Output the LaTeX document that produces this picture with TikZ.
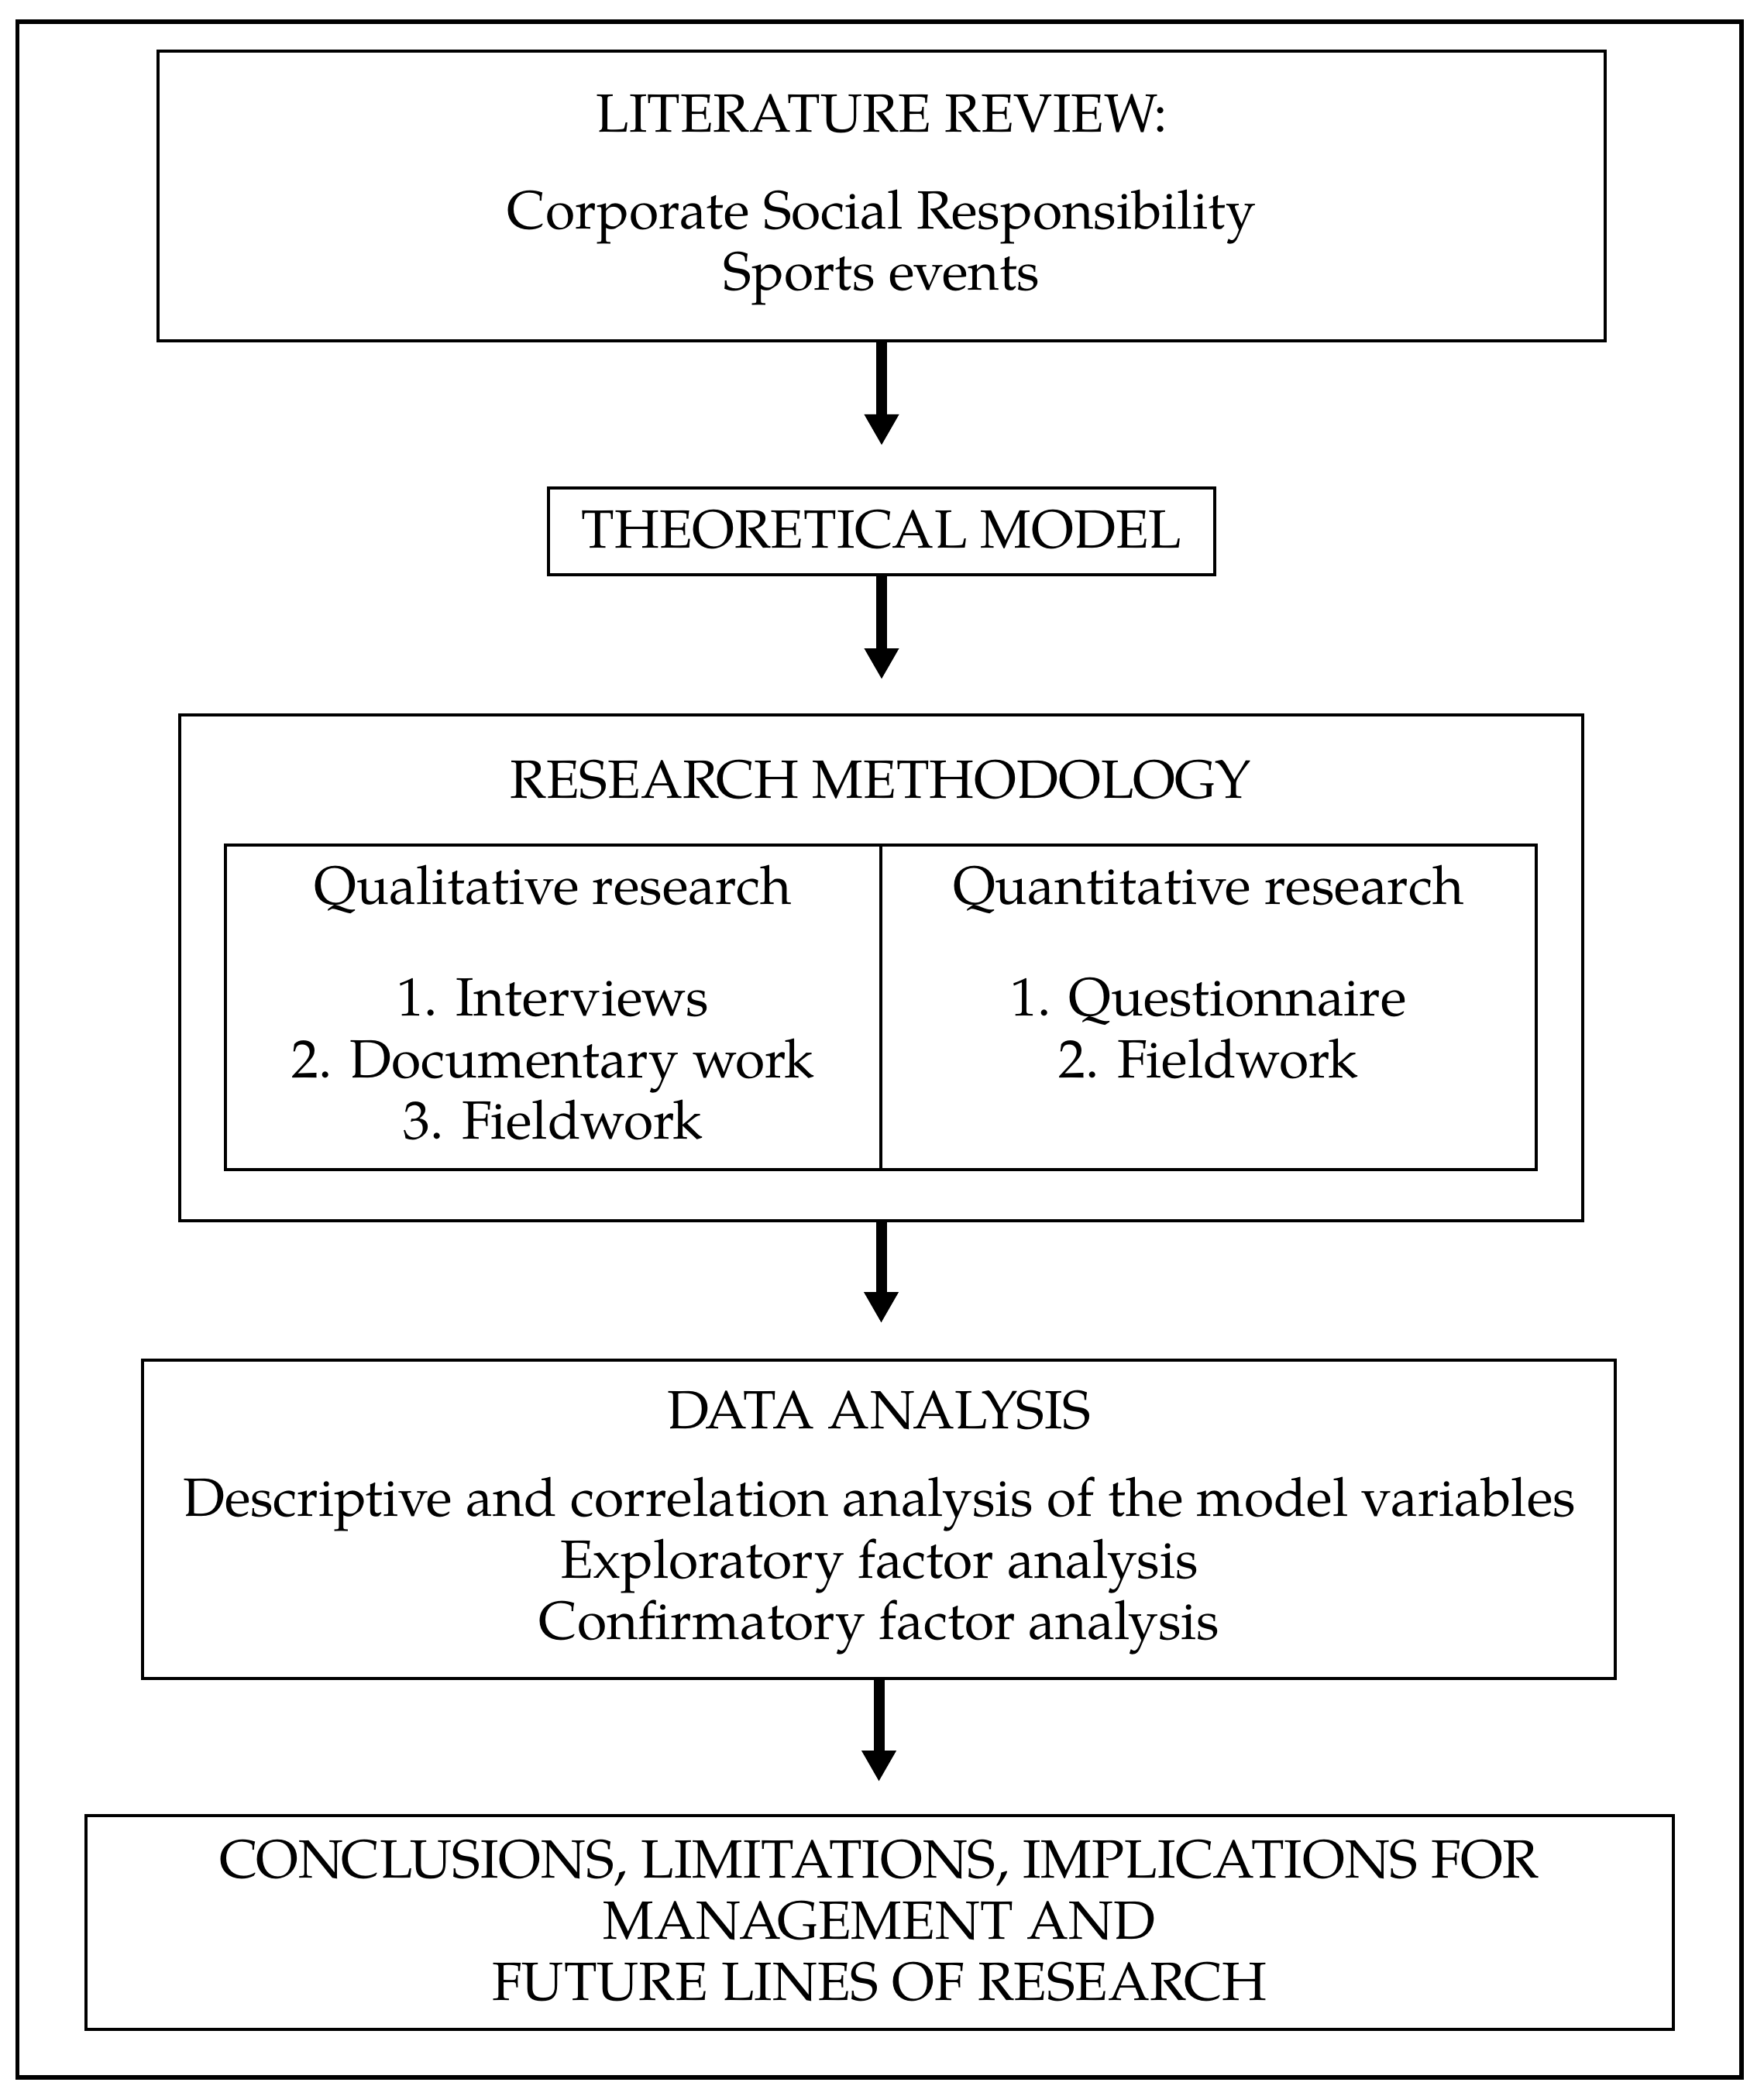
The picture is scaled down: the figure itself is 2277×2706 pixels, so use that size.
\documentclass[tikz,border=0pt]{standalone}
\usepackage{fontspec}
\setmainfont{TeX Gyre Pagella}
\usetikzlibrary{arrows.meta}
\begin{document}
\begin{tikzpicture}[x=0.25pt,y=-0.25pt,
  box/.style={draw=black,line width=1.15pt,rectangle,inner sep=0pt,outer sep=0pt},
  txt/.style={anchor=base,inner sep=0pt,font=\fontsize{17.4}{21}\selectfont},
  flow/.style={line width=3.5pt,-{Triangle[width=10.5pt,length=10pt]}}]
\useasboundingbox (0,0) rectangle (2277,2706);
% outer frame
\node[box,line width=1.3pt,minimum width=556.4pt,minimum height=663.5pt] (frame) at (1135.25,1355) {};
% boxes
\node[box,minimum width=467pt,minimum height=93.5pt] (lit) at (1138,253) {};
\node[box,minimum width=215pt,minimum height=28pt] (theo) at (1138,686) {};
\node[box,minimum width=452.75pt,minimum height=163.25pt] (meth) at (1137.5,1249.5) {};
\node[box,minimum width=423pt,minimum height=104.75pt] (table) at (1137,1300.5) {};
\draw[line width=1.15pt] (table.north) -- (table.south);
\node[box,minimum width=475.25pt,minimum height=102.75pt] (data) at (1134.5,1961.5) {};
\node[box,minimum width=512.25pt,minimum height=69pt] (concl) at (1135.5,2482) {};
% texts
\node[txt] (t1) at (1138,171) {LITERATURE REVIEW:};
\node[txt] (t2) at (1138,296) {Corporate Social Responsibility};
\node[txt] (t3) at (1138,375) {Sports events};
\node[txt] (t4) at (1138,707) {THEORETICAL MODEL};
\node[txt] (t5) at (1137,1030) {RESEARCH METHODOLOGY};
\node[txt] (t6) at (714,1167) {Qualitative research};
\node[txt] (t7) at (714,1311) {1. Interviews};
\node[txt] (t8) at (714,1391) {2. Documentary work};
\node[txt] (t9) at (714,1470) {3. Fieldwork};
\node[txt] (t10) at (1560,1167) {Quantitative research};
\node[txt] (t11) at (1560,1311) {1. Questionnaire};
\node[txt] (t12) at (1560,1391) {2. Fieldwork};
\node[txt] (t13) at (1135,1844) {DATA ANALYSIS};
\node[txt] (t14) at (1135,1957) {Descriptive and correlation analysis of the model variables};
\node[txt] (t15) at (1135,2037) {Exploratory factor analysis};
\node[txt] (t16) at (1135,2116) {Confirmatory factor analysis};
\node[txt] (t17) at (1135,2424) {CONCLUSIONS, LIMITATIONS, IMPLICATIONS FOR};
\node[txt] (t18) at (1135,2503) {MANAGEMENT AND};
\node[txt] (t19) at (1135,2582) {FUTURE LINES OF RESEARCH};
% arrow ends
\coordinate (a1) at (1138,575);
\coordinate (a2) at (1138,877);
\coordinate (a3) at (1137.5,1708);
\coordinate (a4) at (1134.5,2300);
\draw[flow] (lit.south) -- (a1);
\draw[flow] (theo.south) -- (a2);
\draw[flow] (meth.south) -- (a3);
\draw[flow] (data.south) -- (a4);
\end{tikzpicture}
\end{document}
